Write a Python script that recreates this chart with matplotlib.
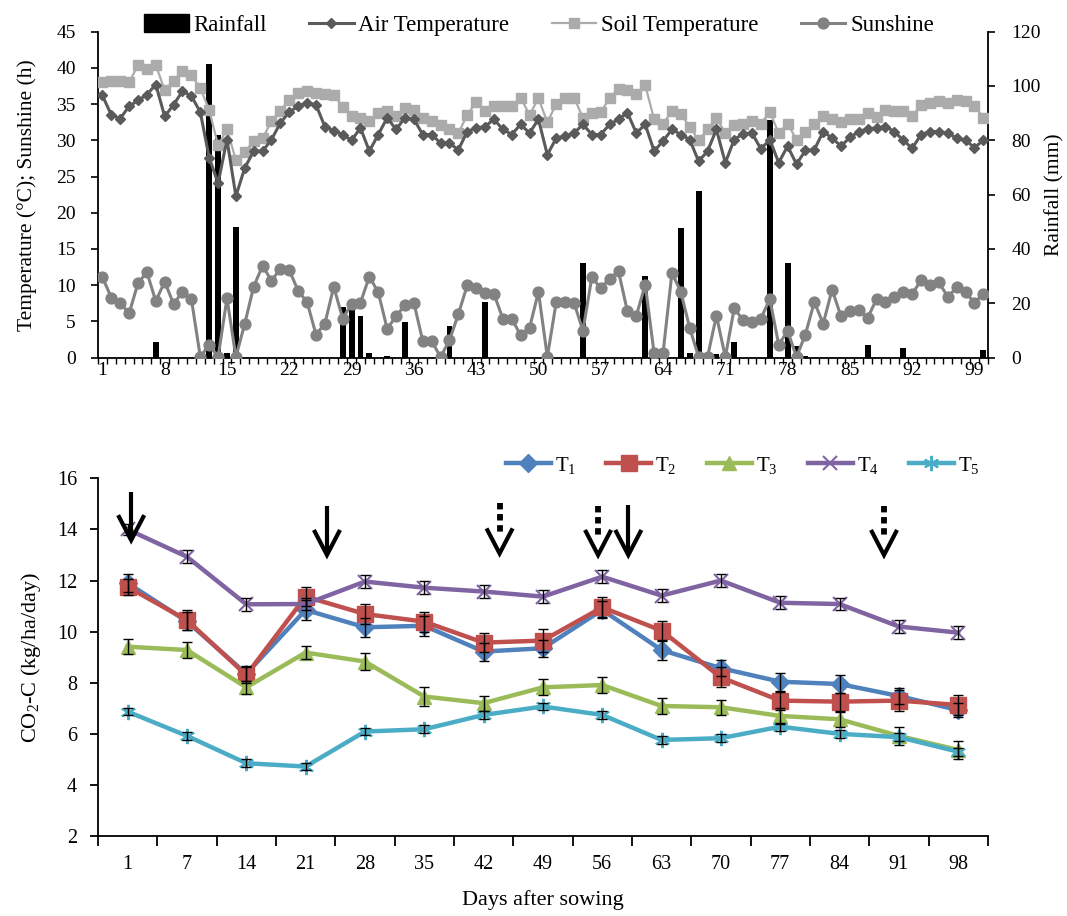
import numpy as np
import matplotlib
matplotlib.use("Agg")
import matplotlib.pyplot as plt
from matplotlib.patches import Patch
from matplotlib.lines import Line2D

plt.rcParams['font.family'] = ['Liberation Serif', 'DejaVu Serif']
plt.rcParams['mathtext.fontset'] = 'custom'
plt.rcParams['mathtext.rm'] = 'Liberation Serif'
plt.rcParams['mathtext.it'] = 'Liberation Serif:italic'

# ---------------- top chart data (days 1..100) ----------------
days = list(range(1, 101))
air_temp = [36.2, 33.5, 33.0, 34.7, 35.5, 36.3, 37.7, 33.3, 34.9, 36.8,
            36.1, 33.9, 27.6, 24.1, 30.1, 22.3, 26.2, 28.5, 28.5, 30.1,
            32.4, 33.9, 34.7, 35.2, 34.9, 31.9, 31.3, 30.8, 30.0, 31.7,
            28.5, 30.8, 33.1, 31.5, 33.1, 32.9, 30.8, 30.8, 29.6, 29.6,
            28.7, 31.2, 31.7, 31.9, 32.9, 31.5, 30.8, 32.2, 31.0, 32.9,
            28.0, 30.3, 30.6, 31.0, 32.2, 30.8, 30.8, 32.2, 32.9, 33.8,
            31.0, 32.2, 28.5, 29.9, 31.5, 30.8, 30.1, 27.1, 28.5, 31.5,
            26.9, 30.1, 30.9, 31.0, 28.8, 30.1, 26.9, 29.2, 26.7, 28.6,
            28.7, 31.2, 30.3, 29.2, 30.4, 31.2, 31.6, 31.7, 31.9, 31.2,
            30.0, 28.9, 30.8, 31.2, 31.2, 31.0, 30.3, 30.0, 29.0, 30.0]
soil_temp = [38.1, 38.2, 38.2, 38.0, 40.4, 39.9, 40.4, 36.9, 38.2, 39.5,
             39.0, 37.2, 34.2, 29.3, 31.5, 27.3, 28.4, 29.9, 30.3, 32.6,
             34.1, 35.6, 36.5, 36.8, 36.5, 36.4, 36.3, 34.6, 33.3, 33.1,
             32.7, 33.8, 34.0, 33.3, 34.5, 34.2, 33.1, 32.6, 32.1, 31.6,
             31.0, 33.5, 35.3, 34.1, 34.7, 34.7, 34.7, 35.9, 33.5, 35.8,
             32.5, 35.0, 35.9, 35.9, 33.1, 33.8, 33.9, 35.8, 37.1, 37.0,
             36.4, 37.6, 32.9, 32.3, 34.0, 33.6, 31.9, 30.0, 31.5, 33.1,
             31.0, 32.1, 32.3, 32.7, 32.3, 33.9, 31.0, 32.3, 30.1, 31.2,
             32.2, 33.3, 33.0, 32.5, 32.9, 33.0, 33.8, 33.2, 34.2, 34.1,
             34.0, 33.3, 34.9, 35.2, 35.4, 35.2, 35.5, 35.4, 34.8, 33.1]
sunshine = [11.1, 8.3, 7.6, 6.1, 10.3, 11.8, 7.8, 10.5, 7.4, 9.1,
            8.1, 0.1, 1.8, 0.1, 8.2, 0.1, 4.7, 9.8, 12.7, 10.6,
            12.3, 12.1, 9.2, 7.7, 3.2, 4.7, 9.8, 5.4, 7.4, 7.6,
            11.2, 9.0, 4.0, 5.7, 7.3, 7.6, 2.3, 2.3, 0.1, 2.4,
            6.0, 10.0, 9.6, 8.9, 8.8, 5.4, 5.4, 3.1, 4.1, 9.1,
            0.1, 7.7, 7.7, 7.6, 3.7, 11.1, 9.6, 10.9, 11.9, 6.4,
            5.8, 10.1, 0.6, 0.6, 11.7, 9.1, 4.1, 0.1, 0.1, 5.8,
            0.1, 6.8, 5.2, 4.9, 5.4, 8.1, 1.8, 3.7, 0.1, 3.2,
            7.7, 4.7, 9.4, 5.7, 6.4, 6.6, 5.5, 8.1, 7.7, 8.4,
            9.0, 8.8, 10.7, 10.0, 10.4, 8.4, 9.7, 9.0, 7.6, 8.8]
rainfall = [0, 0, 0, 0, 0, 0, 5.9, 0, 0, 0,
            0, 0, 108.0, 82.0, 1.6, 48.0, 0, 0, 0, 0,
            0, 0, 0, 0, 0, 0, 0, 18.5, 17.5, 15.5,
            1.6, 0, 0.7, 0, 13.2, 0, 0, 0, 0, 11.8,
            0, 0, 0, 20.4, 0, 0, 0, 0, 0, 0,
            1.0, 0, 0, 0, 34.8, 0, 0, 0, 0, 0,
            0, 30.2, 0, 0, 0, 47.8, 1.6, 61.2, 0, 1.2,
            0, 5.7, 0, 0, 0, 87.5, 0, 35.0, 4.3, 0.8,
            0, 0, 0, 0, 0, 0, 4.8, 0, 0, 0,
            3.6, 0, 0, 0, 0, 0, 0, 0, 0, 3.0]
top_tick_days = [1, 8, 15, 22, 29, 36, 43, 50, 57, 64, 71, 78, 85, 92, 99]

# ---------------- bottom chart data ----------------
sampling_days = [1, 7, 14, 21, 28, 35, 42, 49, 56, 63, 70, 77, 84, 91, 98]
T1 = [11.9, 10.4, 8.35, 10.85, 10.17, 10.23, 9.22, 9.35, 10.85, 9.28, 8.57, 8.04, 7.95, 7.48, 6.93]
T2 = [11.75, 10.45, 8.3, 11.37, 10.69, 10.39, 9.57, 9.65, 10.95, 10.04, 8.21, 7.3, 7.26, 7.3, 7.13]
T3 = [9.41, 9.28, 7.82, 9.18, 8.83, 7.46, 7.2, 7.82, 7.91, 7.09, 7.04, 6.7, 6.57, 5.92, 5.37]
T4 = [14.0, 12.93, 11.07, 11.08, 11.96, 11.72, 11.57, 11.37, 12.15, 11.41, 12.0, 11.13, 11.08, 10.2, 9.96]
T5 = [6.87, 5.92, 4.85, 4.72, 6.09, 6.18, 6.74, 7.07, 6.74, 5.76, 5.83, 6.28, 6.0, 5.87, 5.3]
T1_err = [0.35, 0.35, 0.3, 0.4, 0.37, 0.39, 0.35, 0.33, 0.33, 0.39, 0.32, 0.36, 0.34, 0.3, 0.26]
T2_err = [0.3, 0.4, 0.3, 0.36, 0.39, 0.39, 0.36, 0.44, 0.39, 0.39, 0.39, 0.35, 0.35, 0.4, 0.39]
T3_err = [0.3, 0.32, 0.25, 0.26, 0.32, 0.36, 0.3, 0.31, 0.3, 0.3, 0.29, 0.3, 0.3, 0.36, 0.36]
T4_err = [0.2, 0.25, 0.26, 0.25, 0.26, 0.25, 0.25, 0.25, 0.25, 0.25, 0.25, 0.25, 0.25, 0.25, 0.25]
T5_err = [0.15, 0.15, 0.15, 0.15, 0.15, 0.15, 0.15, 0.15, 0.15, 0.15, 0.15, 0.15, 0.15, 0.15, 0.15]

# arrows (annotation markers): x in category units, dotted flag
arrow_x = [0.06, 3.36, 6.27, 7.93, 8.44, 12.75]
arrow_dotted = [False, False, True, True, False, True]
arrow_top = [15.48, 14.92, 15.03, 14.92, 14.96, 14.92]
arrow_tip = [13.58, 13.0, 13.06, 13.0, 13.0, 13.0]

# ---------------- figure ----------------
fig = plt.figure(figsize=(10.67, 9.16), dpi=100)
ax = fig.add_axes([0.0918, 0.6095, 0.834, 0.356])
axr = ax.twinx()

xi = np.arange(len(days))
axr.bar(xi, rainfall, width=0.66, color='black', zorder=1)
axr.set_ylim(0, 120)
axr.set_yticks(range(0, 121, 20))

c_air, c_soil, c_sun = '#5a5a5a', '#ababab', '#828282'
ax.plot(xi, air_temp, color=c_air, lw=2.2, marker='D', ms=5.5, zorder=4)
ax.plot(xi, soil_temp, color=c_soil, lw=1.6, marker='s', ms=7.5, zorder=3)
ax.plot(xi, sunshine, color=c_sun, lw=2.2, marker='o', ms=7.8, zorder=4)
ax.set_zorder(axr.get_zorder() + 1)
ax.patch.set_visible(False)

ax.set_xlim(-0.5, len(days) - 0.5)
ax.set_ylim(0, 45)
ax.set_yticks(range(0, 46, 5))
ax.set_xticks([days.index(d) for d in top_tick_days])
ax.set_xticklabels([str(d) for d in top_tick_days])
ax.set_xticks(np.arange(-0.5, len(days), 1), minor=True)
ax.tick_params(axis='x', which='major', length=0, labelsize=14, pad=3)
ax.tick_params(axis='x', which='minor', length=4, width=1, direction='out')
ax.tick_params(axis='y', length=5, width=1.2, labelsize=14, direction='out', pad=11)
axr.tick_params(axis='y', length=5, width=1.2, labelsize=14, direction='out', pad=12)
for a in (ax, axr):
    a.spines['top'].set_visible(False)
    for s in ('left', 'right', 'bottom'):
        a.spines[s].set_linewidth(1.3)
ax.spines['right'].set_visible(False)
axr.spines['left'].set_visible(False)
axr.spines['bottom'].set_visible(False)
ax.set_ylabel('Temperature (°C); Sunshine (h)', fontsize=15.5, labelpad=14)
axr.set_ylabel('Rainfall (mm)', fontsize=15.5, labelpad=3)

h_top = [Patch(facecolor='black', edgecolor='black'),
         Line2D([], [], color=c_air, lw=2.2, marker='D', ms=5.5),
         Line2D([], [], color=c_soil, lw=1.6, marker='s', ms=7.5),
         Line2D([], [], color=c_sun, lw=2.2, marker='o', ms=7.8)]
fig.legend(h_top, ['Rainfall', 'Air Temperature', 'Soil Temperature', 'Sunshine'],
           loc='center', bbox_to_anchor=(0.505, 1 - 25 / 916), ncol=4, frameon=False,
           fontsize=16.5, handlelength=1.95, handleheight=0.85, columnspacing=1.85,
           handletextpad=0.2, borderpad=0)

# ---------------- bottom chart ----------------
ax2 = fig.add_axes([0.0918, 0.0873, 0.834, 0.3905])
xb = np.arange(len(sampling_days))
series = [(T1, T1_err, '#4F81BD', 'D', 9, r'T$_{1}$'),
          (T2, T2_err, '#C0504D', 's', 11, r'T$_{2}$'),
          (T3, T3_err, '#9BBB59', '^', 10, r'T$_{3}$'),
          (T4, T4_err, '#8064A2', 'x', 10, r'T$_{4}$'),
          (T5, T5_err, '#4BACC6', (6, 2, 0), 11, r'T$_{5}$')]
handles2 = []
for vals, err, col, mk, ms, lab in series:
    mew = 1.5 if mk in ('x',) or isinstance(mk, tuple) else 1
    ln, = ax2.plot(xb, vals, color=col, lw=3.2, marker=mk, ms=ms, mew=mew,
                   mec=col, mfc=col, zorder=3, label=lab)
    ax2.errorbar(xb, vals, yerr=err, fmt='none', ecolor='black', elinewidth=1,
                 capsize=3.5, capthick=1, zorder=5)
    handles2.append(ln)

for x0, dotted, yt, yp in zip(arrow_x, arrow_dotted, arrow_top, arrow_tip):
    hw, hh = 0.22, 0.98
    if dotted:
        ax2.plot([x0, x0], [yt, yp + 0.78], color='black', lw=4.2,
                 linestyle=(0, (1.1, 0.8)), solid_capstyle='butt',
                 dash_capstyle='butt', zorder=6)
    else:
        ax2.plot([x0, x0], [yt, yp + 0.1], color='black', lw=3.0,
                 solid_capstyle='butt', zorder=6)
    ax2.plot([x0 - hw, x0, x0 + hw], [yp + hh, yp, yp + hh], color='black',
             lw=3.0, solid_joinstyle='miter', solid_capstyle='butt', zorder=6)

ax2.set_xlim(-0.5, len(sampling_days) - 0.5)
ax2.set_ylim(2, 16)
ax2.set_yticks(range(2, 17, 2))
ax2.set_xticks(xb)
ax2.set_xticklabels([str(d) for d in sampling_days])
ax2.set_xticks(np.arange(-0.5, len(sampling_days), 1), minor=True)
ax2.tick_params(axis='x', which='major', length=0, labelsize=14.5, pad=14)
ax2.tick_params(axis='x', which='minor', length=7, width=1.3, direction='out')
ax2.tick_params(axis='y', length=6, width=1.3, labelsize=14.5, direction='out', pad=9)
ax2.spines['top'].set_visible(False)
ax2.spines['right'].set_visible(False)
ax2.spines['left'].set_linewidth(1.3)
ax2.spines['bottom'].set_linewidth(1.3)
ax2.set_xlabel('Days after sowing', fontsize=16, labelpad=11)
ax2.set_ylabel('CO$_{2}$-C (kg/ha/day)', fontsize=16, labelpad=10)

fig.legend(handles2, [s[5] for s in series], loc='center',
           bbox_to_anchor=(0.696, 1 - 465 / 916), ncol=5, frameon=False,
           fontsize=15, handlelength=2.15, columnspacing=1.45, handletextpad=0.2,
           borderpad=0)

fig.savefig('out.png', dpi=100)
